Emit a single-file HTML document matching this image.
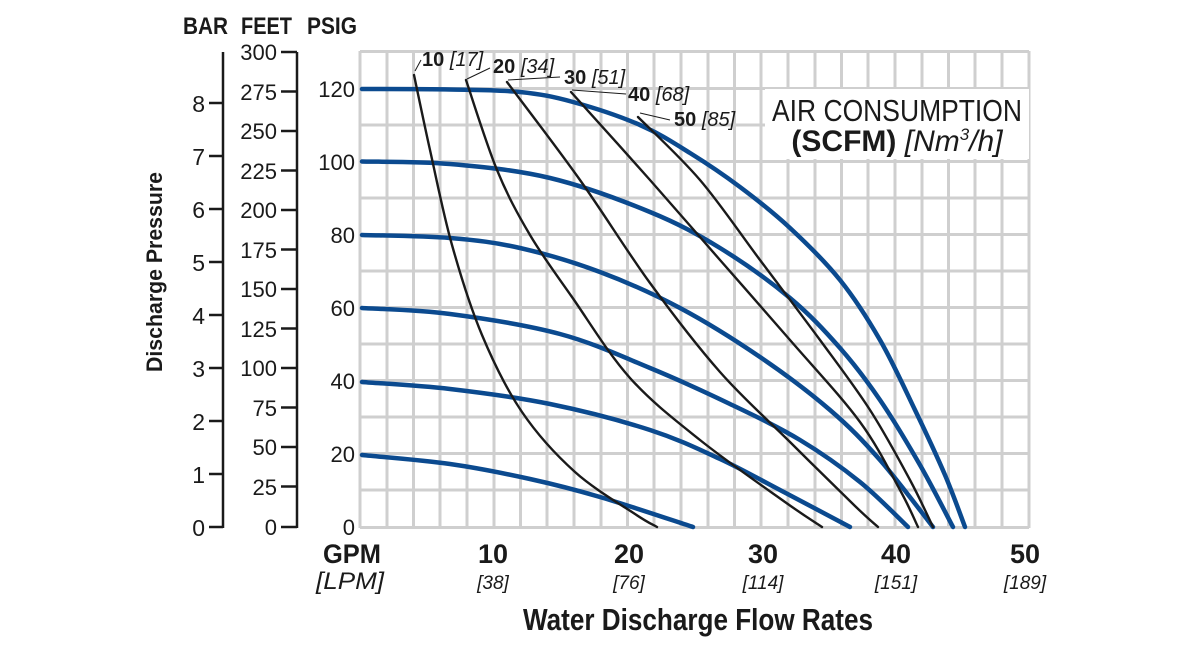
<!DOCTYPE html>
<html><head><meta charset="utf-8"><style>
html,body{margin:0;padding:0;background:#fff;width:1200px;height:660px;overflow:hidden}
svg{display:block}
text{font-family:"Liberation Sans Narrow","Liberation Sans",sans-serif;fill:#1a1a1a}
.b{font-weight:bold}
.i{font-style:italic}
</style></head><body>
<svg id="s" width="1200" height="660" viewBox="0 0 1200 660" xmlns="http://www.w3.org/2000/svg">
<g stroke="#cfcfcf" stroke-width="3" fill="none">
<path d="M360 51.5H1029M360 88.5H1029M360 125H1029M360 161.5H1029M360 198H1029M360 234.5H1029M360 271H1029M360 307.5H1029M360 344H1029M360 380.5H1029M360 417H1029M360 453.5H1029M360 490H1029M360 527.5H1029"/>
<path d="M360 51V528M387 51V528M413.5 51V528M440 51V528M467 51V528M494 51V528M520.5 51V528M547 51V528M574 51V528M601 51V528M627.5 51V528M654 51V528M681 51V528M708 51V528M734.5 51V528M761 51V528M788 51V528M815 51V528M841.5 51V528M868 51V528M895 51V528M922 51V528M948.5 51V528M975 51V528M1002 51V528M1029 51V528"/>
</g>
<rect x="765" y="89" width="264" height="70" fill="#fff"/>
<text x="897" y="121" font-size="31" text-anchor="middle" textLength="250" lengthAdjust="spacingAndGlyphs">AIR CONSUMPTION</text>
<text x="897" y="151" font-size="30" text-anchor="middle"><tspan class="b">(SCFM)</tspan> <tspan class="i">[Nm</tspan><tspan class="i" font-size="17" dy="-11">3</tspan><tspan class="i" dy="11">/h]</tspan></text>
<g id="curves" fill="none" stroke-linejoin="round" stroke-linecap="round"></g>
<g stroke="#1a1a1a" stroke-width="1">
<line x1="415" y1="71" x2="421" y2="60"/>
<line x1="467" y1="79" x2="490" y2="68"/>
<line x1="508" y1="80" x2="560" y2="77"/>
<line x1="572" y1="90" x2="626" y2="94"/>
<line x1="640" y1="113" x2="670" y2="120"/>
</g>
<g font-size="20">
<text x="422" y="66"><tspan class="b">10</tspan> <tspan class="i">[17]</tspan></text>
<text x="493" y="73"><tspan class="b">20</tspan> <tspan class="i">[34]</tspan></text>
<text x="564" y="84"><tspan class="b">30</tspan> <tspan class="i">[51]</tspan></text>
<text x="628" y="101"><tspan class="b">40</tspan> <tspan class="i">[68]</tspan></text>
<text x="674" y="126"><tspan class="b">50</tspan> <tspan class="i">[85]</tspan></text>
</g>
<g stroke="#1a1a1a" stroke-width="2.5" fill="none">
<path d="M223 52V528M209 103H223M209 156H223M209 209H223M209 262H223M209 315H223M209 368H223M209 421H223M209 474H223M209 527H223"/>
<path d="M297 52V528M281 52H297M281 91.5H297M281 131H297M281 170.5H297M281 210H297M281 249.5H297M281 289H297M281 328.5H297M281 368H297M281 407.5H297M281 447H297M281 486.5H297M281 527H297"/>
</g>
<g font-size="23" text-anchor="end">
<text x="205" y="112">8</text><text x="205" y="165">7</text><text x="205" y="218">6</text><text x="205" y="271">5</text><text x="205" y="324">4</text><text x="205" y="377">3</text><text x="205" y="430">2</text><text x="205" y="483">1</text><text x="205" y="536">0</text>
<g font-size="22">
<text x="277" y="60">300</text><text x="277" y="100">275</text><text x="277" y="139">250</text><text x="277" y="179">225</text><text x="277" y="218">200</text><text x="277" y="258">175</text><text x="277" y="297">150</text><text x="277" y="337">125</text><text x="277" y="376">100</text><text x="277" y="416">75</text><text x="277" y="455">50</text><text x="277" y="495">25</text><text x="277" y="535">0</text>
<text x="355" y="97">120</text><text x="355" y="170">100</text><text x="355" y="243">80</text><text x="355" y="316">60</text><text x="355" y="389">40</text><text x="355" y="462">20</text><text x="355" y="535">0</text>
</g>
</g>
<g font-size="24" class="b">
<text x="183" y="34" class="b" textLength="45" lengthAdjust="spacingAndGlyphs">BAR</text><text x="241" y="34" class="b" textLength="51" lengthAdjust="spacingAndGlyphs">FEET</text><text x="307" y="34" class="b" textLength="50" lengthAdjust="spacingAndGlyphs">PSIG</text>
</g>
<text transform="translate(162,272) rotate(-90)" font-size="22" class="b" text-anchor="middle" textLength="200" lengthAdjust="spacingAndGlyphs">Discharge Pressure</text>
<g text-anchor="middle">
<text x="352" y="563" font-size="27" class="b" textLength="58" lengthAdjust="spacingAndGlyphs">GPM</text>
<text x="350" y="589" font-size="24" class="i" textLength="68" lengthAdjust="spacingAndGlyphs">[LPM]</text>
<text x="493" y="563" font-size="27" class="b">10</text><text x="493" y="589" font-size="19" class="i">[38]</text>
<text x="629" y="563" font-size="27" class="b">20</text><text x="629" y="589" font-size="19" class="i">[76]</text>
<text x="763" y="563" font-size="27" class="b">30</text><text x="763" y="589" font-size="19" class="i">[114]</text>
<text x="896" y="563" font-size="27" class="b">40</text><text x="896" y="589" font-size="19" class="i">[151]</text>
<text x="1025" y="563" font-size="27" class="b">50</text><text x="1025" y="589" font-size="19" class="i">[189]</text>
<text x="698" y="630" font-size="31" class="b" textLength="350" lengthAdjust="spacingAndGlyphs">Water Discharge Flow Rates</text>
</g>
</svg>
<script>
var blue=[
[[362,89],[450,89.5],[520,92],[573,102],[640,125],[690,153],[740,187],[790,228],[840,280],[880,340],[915,410],[945,475],[965,527]],
[[362,161.5],[450,164],[550,178],[650,212],[720,248],[790,298],[840,348],[880,400],[920,465],[953,527]],
[[362,235],[450,238],[520,248],[600,272],[680,308],[760,357],[830,410],[880,460],[933,527]],
[[362,308],[450,314],[560,334],[650,368],[730,404],[800,440],[860,482],[908,527]],
[[362,382],[450,389],[550,404],[650,430],[720,459],[780,490],[850,527]],
[[362,455],[450,464],[530,479],[600,497],[693,527]]];
var black=[
[[414,75],[430,150],[452,245],[482,335],[522,412],[575,472],[635,514],[657,527]],
[[466,80],[497,170],[530,235],[572,297],[630,378],[700,440],[785,502],[822,527]],
[[507,82],[580,180],[650,283],[720,372],[790,442],[855,506],[878,527]],
[[571,92],[650,180],[720,260],[790,340],[860,422],[900,490],[918,527]],
[[638,117],[700,180],[760,260],[820,340],[870,410],[910,480],[933,527]]];
function cr(p){var d="M"+p[0][0]+" "+p[0][1];for(var i=0;i<p.length-1;i++){var a=p[i-1]||p[i],b=p[i],c=p[i+1],e=p[i+2]||c;
d+=" C"+(b[0]+(c[0]-a[0])/6)+" "+(b[1]+(c[1]-a[1])/6)+" "+(c[0]-(e[0]-b[0])/6)+" "+(c[1]-(e[1]-b[1])/6)+" "+c[0]+" "+c[1];}return d;}
var g=document.getElementById("curves"),ns="http://www.w3.org/2000/svg";
function add(p,col,w){var e=document.createElementNS(ns,"path");e.setAttribute("d",cr(p));e.setAttribute("stroke",col);e.setAttribute("stroke-width",w);g.appendChild(e);}
blue.forEach(function(p){add(p,"#0b4a8f",4.5)});
black.forEach(function(p){add(p,"#1a1a1a",2.4)});
</script>
</body></html>
